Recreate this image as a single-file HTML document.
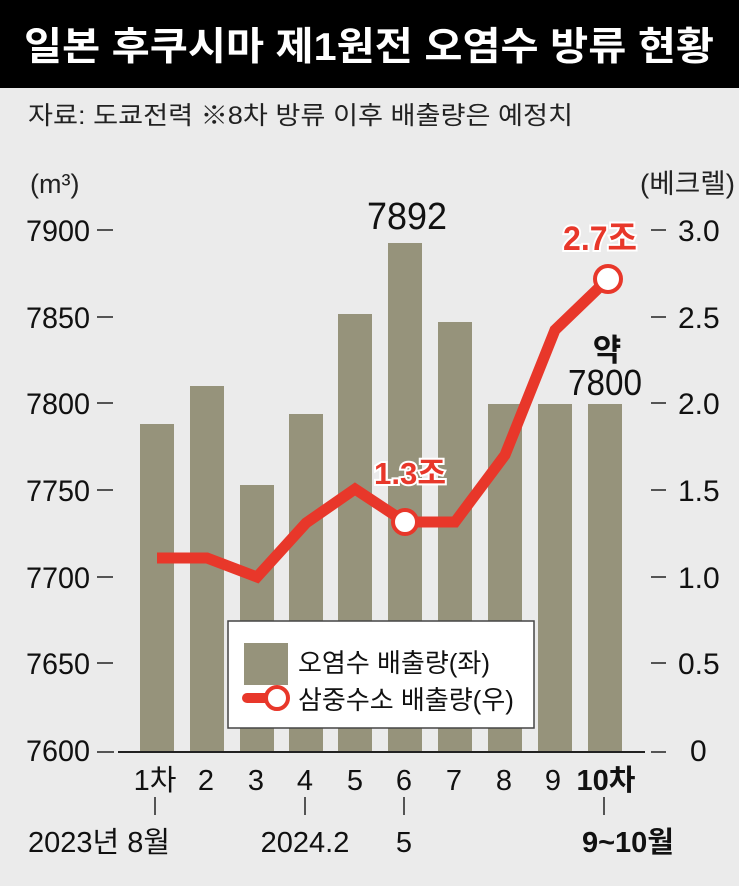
<!DOCTYPE html>
<html><head><meta charset="utf-8"><style>
body{margin:0;width:739px;height:886px;background:#ebebeb;overflow:hidden;font-family:"Liberation Sans","Noto Sans CJK KR",sans-serif}
</style></head><body>
<svg width="739" height="886" xmlns="http://www.w3.org/2000/svg" style="position:absolute;left:0;top:0;font-family:'Liberation Sans','Noto Sans CJK KR',sans-serif">
<rect x="0" y="0" width="739" height="88" fill="#000"/>
<text x="369" y="60" fill="#fff" font-size="39" font-weight="bold" text-anchor="middle" textLength="690" lengthAdjust="spacingAndGlyphs">일본 후쿠시마 제1원전 오염수 방류 현황</text>
<text x="28" y="124" fill="#222" font-size="25" textLength="545" lengthAdjust="spacingAndGlyphs">자료: 도쿄전력  ※8차 방류 이후 배출량은 예정치</text>
<text x="30" y="193" fill="#222" font-size="27">(m³)</text>
<text x="640" y="193" fill="#222" font-size="27" textLength="95" lengthAdjust="spacingAndGlyphs">(베크렐)</text>
<g font-size="30" fill="#111" text-anchor="end">
<text x="90" y="241" textLength="64" lengthAdjust="spacingAndGlyphs">7900</text><text x="90" y="328" textLength="64" lengthAdjust="spacingAndGlyphs">7850</text><text x="90" y="414" textLength="64" lengthAdjust="spacingAndGlyphs">7800</text>
<text x="90" y="501" textLength="64" lengthAdjust="spacingAndGlyphs">7750</text><text x="90" y="588" textLength="64" lengthAdjust="spacingAndGlyphs">7700</text><text x="90" y="674" textLength="64" lengthAdjust="spacingAndGlyphs">7650</text><text x="90" y="761" textLength="64" lengthAdjust="spacingAndGlyphs">7600</text>
</g>
<g stroke="#222" stroke-width="1.5">
<line x1="97" y1="230" x2="113" y2="230"/><line x1="97" y1="317" x2="113" y2="317"/><line x1="97" y1="403" x2="113" y2="403"/>
<line x1="97" y1="490" x2="113" y2="490"/><line x1="97" y1="577" x2="113" y2="577"/><line x1="97" y1="663" x2="113" y2="663"/>
<line x1="651" y1="230" x2="666" y2="230"/><line x1="651" y1="317" x2="666" y2="317"/><line x1="651" y1="403" x2="666" y2="403"/>
<line x1="651" y1="490" x2="666" y2="490"/><line x1="651" y1="577" x2="666" y2="577"/><line x1="651" y1="663" x2="666" y2="663"/>
</g>
<g font-size="30" fill="#111">
<text x="678" y="241">3.0</text><text x="678" y="328">2.5</text><text x="678" y="414">2.0</text>
<text x="678" y="501">1.5</text><text x="678" y="588">1.0</text><text x="678" y="674">0.5</text><text x="690" y="761">0</text>
</g>
<g fill="#96937b">
<rect x="140" y="424" width="34" height="328"/>
<rect x="190" y="386" width="34" height="366"/>
<rect x="240" y="485" width="34" height="267"/>
<rect x="289" y="414" width="34" height="338"/>
<rect x="338" y="314" width="34" height="438"/>
<rect x="388" y="243" width="34" height="509"/>
<rect x="438" y="322" width="34" height="430"/>
<rect x="488" y="404" width="34" height="348"/>
<rect x="538" y="404" width="34" height="348"/>
<rect x="588" y="404" width="34" height="348"/>
</g>
<line x1="97" y1="752" x2="114" y2="752" stroke="#222" stroke-width="1.5"/>
<line x1="118" y1="752" x2="645" y2="752" stroke="#222" stroke-width="2"/>
<line x1="651" y1="752" x2="666" y2="752" stroke="#222" stroke-width="1.5"/>
<polyline points="157,558 207,558 257,577 306,523 355,489 405,522 455,522 505,455 555,330 608,279" fill="none" stroke="#e8372a" stroke-width="11" stroke-linejoin="miter"/>
<circle cx="405" cy="522" r="12" fill="#fff" stroke="#e8372a" stroke-width="4"/>
<circle cx="608" cy="279" r="13" fill="#fff" stroke="#e8372a" stroke-width="4"/>
<text x="407" y="229" font-size="38" fill="#111" text-anchor="middle" textLength="80" lengthAdjust="spacingAndGlyphs">7892</text>
<text x="600" y="250" font-size="34" fill="#e8372a" font-weight="bold" text-anchor="middle" stroke="#fff" stroke-width="4" paint-order="stroke" textLength="74" lengthAdjust="spacingAndGlyphs">2.7조</text>
<text x="410" y="484" font-size="31" fill="#e8372a" font-weight="bold" text-anchor="middle" stroke="#fff" stroke-width="4" paint-order="stroke" textLength="72" lengthAdjust="spacingAndGlyphs">1.3조</text>
<text x="607" y="361" font-size="31" fill="#111" font-weight="bold" text-anchor="middle">약</text>
<text x="605" y="395" font-size="36" fill="#111" text-anchor="middle" textLength="74" lengthAdjust="spacingAndGlyphs">7800</text>
<rect x="228" y="621" width="306" height="107" fill="#fff" stroke="#444" stroke-width="1.5"/>
<rect x="244" y="643" width="44" height="42" fill="#96937b"/>
<text x="298" y="672" font-size="26" fill="#111">오염수 배출량(좌)</text>
<line x1="247" y1="698" x2="270" y2="698" stroke="#e8372a" stroke-width="10" stroke-linecap="round"/>
<circle cx="277" cy="698" r="11" fill="#fff" stroke="#e8372a" stroke-width="4"/>
<text x="298" y="709" font-size="26" fill="#111">삼중수소 배출량(우)</text>
<g font-size="29" fill="#111" text-anchor="middle">
<text x="155" y="790">1차</text><text x="206" y="790">2</text><text x="256" y="790">3</text><text x="305" y="790">4</text>
<text x="355" y="790">5</text><text x="404" y="790">6</text><text x="454" y="790">7</text><text x="504" y="790">8</text>
<text x="553" y="790">9</text><text x="606" y="790" font-weight="bold">10차</text>
</g>
<g stroke="#222" stroke-width="1.5">
<line x1="155" y1="797" x2="155" y2="815"/><line x1="305" y1="797" x2="305" y2="815"/>
<line x1="404" y1="797" x2="404" y2="815"/><line x1="604" y1="797" x2="604" y2="815"/>
</g>
<g font-size="29" fill="#111">
<text x="28" y="852">2023년 8월</text>
<text x="305" y="852" text-anchor="middle">2024.2</text>
<text x="404" y="852" text-anchor="middle">5</text>
<text x="628" y="852" text-anchor="middle" font-weight="bold">9~10월</text>
</g>
</svg>
</body></html>
